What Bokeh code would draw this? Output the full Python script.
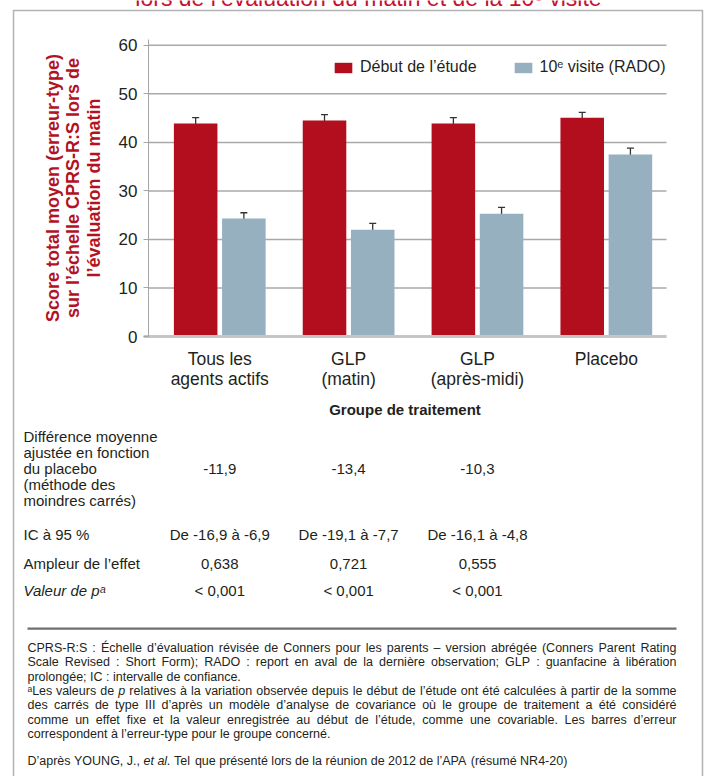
from bokeh.plotting import figure
from bokeh.models import (ColumnDataSource, Whisker, TeeHead, Legend, LegendItem,
                          FixedTicker, SingleIntervalTicker, Range1d)
from bokeh.core.properties import value
from bokeh.embed import file_html
from bokeh.resources import INLINE

# ---- data -------------------------------------------------------------
groups = ["Tous les\nagents actifs", "GLP\n(matin)", "GLP\n(après-midi)", "Placebo"]
series_labels = ["Début de l’étude", "10ᵉ visite (RADO)"]

baseline = [43.9, 44.5, 43.9, 45.1]
baseline_se = [1.2, 1.2, 1.2, 1.1]
visit10 = [24.3, 22.0, 25.3, 37.5]
visit10_se = [1.2, 1.3, 1.3, 1.3]
y_ticks = [0, 10, 20, 30, 40, 50, 60]

row_labels = [
    "Différence moyenne\najustée en fonction\ndu placebo\n(méthode des\nmoindres carrés)",
    "IC à 95 %",
    "Ampleur de l’effet",
    "Valeur de pᵃ",
]
diff_ls = ["-11,9", "-13,4", "-10,3"]
ci95 = ["De -16,9 à -6,9", "De -19,1 à -7,7", "De -16,1 à -4,8"]
effect_size = ["0,638", "0,721", "0,555"]
p_values = ["< 0,001", "< 0,001", "< 0,001"]

title_text = "lors de l’évaluation du matin et de la 10ᵉ visite"
# (text, justified?) ; words wrapped in *...* are set in italics
footnotes = [
    ("CPRS-R:S : Échelle d’évaluation révisée de Conners pour les parents – version abrégée (Conners Parent Rating", True),
    ("Scale Revised : Short Form); RADO : report en aval de la dernière observation; GLP : guanfacine à libération", True),
    ("prolongée; IC : intervalle de confiance.", False),
    ("ᵃLes valeurs de *p* relatives à la variation observée depuis le début de l’étude ont été calculées à partir de la somme", True),
    ("des carrés de type III d’après un modèle d’analyse de covariance où le groupe de traitement a été considéré", True),
    ("comme un effet fixe et la valeur enregistrée au début de l’étude, comme une covariable. Les barres d’erreur", True),
    ("correspondent à l’erreur-type pour le groupe concerné.", False),
    ("", False),
    ("D’après YOUNG, J., *et* *al.* Tel que présenté lors de la réunion de 2012 de l’APA (résumé NR4-20)", False),
]

# ---- style / page geometry -------------------------------------------
FONT = "Liberation Sans"
RED = "#B20E1E"
BLUE = "#96B0BF"
RED_TXT = "#B3121F"
TXT = "#231F20"

W, H = 704, 776
FL, FR, FT, FB = 148, 666, 39, 336          # chart area on the page, in px
X_LO, X_HI, Y_LO, Y_HI = -0.553, 3.467, 0.0, 61.2
kx = (FR - FL) / (X_HI - X_LO)
ky = (FB - FT) / (Y_HI - Y_LO)
OFF, BW = 0.187, 0.338

p = figure(width=W, height=H,
           x_range=Range1d(X_LO - FL / kx, X_HI + (W - FR) / kx),
           y_range=Range1d(Y_LO - (H - FB) / ky, Y_HI + FT / ky),
           min_border=0, output_backend="svg", toolbar_location=None,
           outline_line_color=None, background_fill_color="white")
# pixel coordinates for the page furniture (y grows downwards)
p.extra_x_ranges = {"px": Range1d(0, W)}
p.extra_y_ranges = {"px": Range1d(H, 0)}

# horizontal grid lines limited to the chart area
p.xgrid.grid_line_color = None
p.ygrid.grid_line_color = None
p.segment(x0=X_LO, x1=X_HI, y0=y_ticks[1:], y1=y_ticks[1:], line_color="#a9a9a9",
          line_width=1.5, level="underlay")

idx = list(range(len(groups)))
src = ColumnDataSource(dict(
    xr=[i - OFF for i in idx], xb=[i + OFF for i in idx],
    base=baseline, base_hi=[v + s for v, s in zip(baseline, baseline_se)],
    base_lo=[v - s for v, s in zip(baseline, baseline_se)],
    v10=visit10, v10_hi=[v + s for v, s in zip(visit10, visit10_se)],
    v10_lo=[v - s for v, s in zip(visit10, visit10_se)],
))

r1 = p.vbar(x="xr", top="base", width=BW, source=src, fill_color=RED, line_color=None)
r2 = p.vbar(x="xb", top="v10", width=BW, source=src, fill_color=BLUE, line_color=None)

for base_col, hi, lo in (("xr", "base_hi", "base_lo"), ("xb", "v10_hi", "v10_lo")):
    p.add_layout(Whisker(source=src, base=base_col, upper=hi, lower=lo,
                         line_color="#333333", line_width=1.3,
                         upper_head=TeeHead(size=7, line_color="#333333", line_width=1.3),
                         lower_head=TeeHead(size=7, line_color="#333333", line_width=1.3)))

# axes, pinned to the chart area
yax = p.yaxis[0]
yax.fixed_location = X_LO
yax.bounds = (Y_LO, Y_HI)
yax.ticker = SingleIntervalTicker(interval=10)
yax.axis_label = "Score total moyen (erreur-type)\nsur l’échelle CPRS-R:S lors de\nl’évaluation du matin"
yax.axis_label_text_font = FONT
yax.axis_label_text_font_style = "bold"
yax.axis_label_text_font_size = "18px"
yax.axis_label_text_color = RED_TXT
yax.axis_label_text_line_height = 1.01
yax.axis_label_standoff = 12
yax.major_label_text_font = FONT
yax.major_label_text_font_size = "17px"
yax.major_label_text_color = TXT
yax.major_label_standoff = 6
yax.major_tick_out = 5
yax.major_tick_in = 0
yax.minor_tick_line_color = None
yax.axis_line_color = "#a6a6a6"
yax.major_tick_line_color = "#a6a6a6"

xax = p.xaxis[0]
xax.fixed_location = Y_LO
xax.bounds = (X_LO - 5 / kx, X_HI)
xax.ticker = FixedTicker(ticks=idx)
xax.major_label_overrides = {i: g for i, g in zip(idx, groups)}
xax.major_label_text_font = FONT
xax.major_label_text_font_size = "17.5px"
xax.major_label_text_color = TXT
xax.major_label_text_line_height = 1.0
xax.major_label_standoff = 6
xax.major_tick_line_color = None
xax.minor_tick_line_color = None
xax.axis_line_color = "#c6c6c6"
xax.axis_line_width = 3
xax.axis_label = "Groupe de traitement"
xax.axis_label_text_font = FONT
xax.axis_label_text_font_style = "bold"
xax.axis_label_text_font_size = "15px"
xax.axis_label_text_color = TXT
xax.axis_label_standoff = 9

legend = Legend(items=[LegendItem(label=series_labels[0], renderers=[r1]),
                       LegendItem(label=series_labels[1], renderers=[r2])],
                orientation="horizontal", location=(332, H - 76),
                glyph_width=22, glyph_height=13, label_standoff=6, spacing=35,
                padding=0, margin=0, border_line_color=None, background_fill_alpha=0,
                label_text_font=FONT, label_text_font_size="16px", label_text_color=TXT)
p.add_layout(legend)

# page frame and the heading running off the top edge
p.quad(left=13, right=702, top=10, bottom=H + 20, fill_color=None, line_color="#b3b3b3",
       line_width=1.5, x_range_name="px", y_range_name="px")
p.text(x=[368], y=[-2.5], text=[title_text], x_range_name="px", y_range_name="px",
       text_align="center", text_baseline="alphabetic", text_font=value(FONT),
       text_font_size="23px", text_color="#C8102E")

# summary table under the chart
row_y = [468.0, 533.5, 563.3, 590.0]
p.text(x=[23] * len(row_labels), y=row_y, text=row_labels,
       text_font_style=["normal", "normal", "normal", "italic"],
       x_range_name="px", y_range_name="px", text_align="left", text_baseline="middle",
       text_font=value(FONT), text_font_size="15px", text_color=TXT, text_line_height=0.93)

cells = dict(x=[], y=[], text=[])
for ry, vals in zip(row_y, [diff_ls, ci95, effect_size, p_values]):
    for i, t in enumerate(vals):
        cells["x"].append(i)
        cells["y"].append(ry)
        cells["text"].append(t)
p.text(x="x", y="y", text="text", source=ColumnDataSource(cells), y_range_name="px",
       text_align="center", text_baseline="middle", text_font=value(FONT),
       text_font_size="15px", text_color=TXT)

# footnotes: justified paragraphs set word by word with Arial-compatible advances
ADV = {" ": 278, "'": 191, "’": 222, "(": 333, ")": 333, ",": 278, "-": 333, ".": 278,
       ":": 278, ";": 278, "–": 556, "ᵃ": 330, "%": 889}
ADV.update({d: 556 for d in "0123456789"})
ADV.update(dict(zip("ABCDEFGHIJKLMNOPQRSTUVWXYZ",
                    [667, 667, 722, 722, 667, 611, 778, 722, 278, 500, 667, 556, 833, 722,
                     778, 667, 778, 722, 667, 611, 722, 667, 944, 667, 667, 611])))
ADV.update(dict(zip("abcdefghijklmnopqrstuvwxyz",
                    [556, 556, 500, 556, 556, 278, 556, 556, 222, 222, 500, 222, 833, 556,
                     556, 556, 556, 333, 500, 278, 556, 500, 722, 500, 500, 500])))
ACC = {"é": "e", "è": "e", "ê": "e", "à": "a", "â": "a", "ù": "u", "û": "u", "ô": "o",
       "î": "i", "ç": "c", "É": "E"}
NOTE_PX = 12.5
NOTE_L, NOTE_R = 27, 676


def adv(word):
    return sum(ADV.get(ACC.get(c, c), 556) for c in word) * NOTE_PX / 1000.0


words = dict(x=[], y=[], text=[], style=[])
ny = 647.3
for line, justify in footnotes:
    if line:
        toks = line.split(" ")
        clean = [t.strip("*") for t in toks]
        widths = [adv(t) for t in clean]
        gap = adv(" ")
        if justify and len(toks) > 1:
            gap = (NOTE_R - NOTE_L - sum(widths)) / (len(toks) - 1)
        x = NOTE_L
        for t, c, w in zip(toks, clean, widths):
            words["x"].append(x)
            words["y"].append(ny)
            words["text"].append(c)
            words["style"].append("italic" if t.startswith("*") else "normal")
            x += w + gap
    ny += 14.4 if line else 12.3
p.text(x="x", y="y", text="text", text_font_style="style", source=ColumnDataSource(words),
       x_range_name="px", y_range_name="px", text_align="left", text_baseline="middle",
       text_font=value(FONT), text_font_size=f"{NOTE_PX}px", text_color=TXT)
p.quad(left=NOTE_L, right=NOTE_R, top=627, bottom=629.2, fill_color="#6f6f6f",
       line_color=None, x_range_name="px", y_range_name="px")

open("out.html", "w").write(file_html(p, INLINE))
